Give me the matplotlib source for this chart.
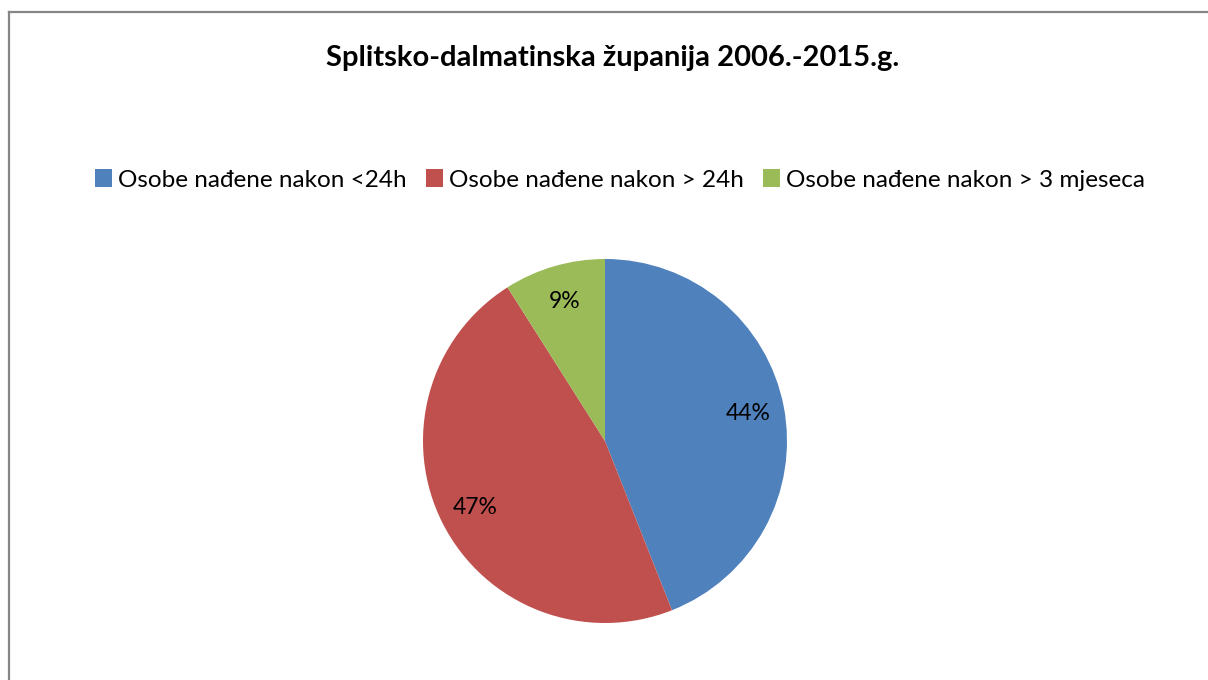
import matplotlib.pyplot as plt
from matplotlib.lines import Line2D
from matplotlib.patches import Patch

plt.rcParams['font.family'] = ['Lato', 'DejaVu Sans']

categories = ['Osobe nađene nakon <24h', 'Osobe nađene nakon > 24h',
              'Osobe nađene nakon > 3 mjeseca']
shares = [44, 47, 9]
colors = ['#4F81BD', '#C0504D', '#9BBB59']

W, H = 1208, 680
fig = plt.figure(figsize=(W / 100, H / 100), dpi=100)

# chart area border (only left and top edges visible in the crop)
fig.add_artist(Line2D([9 / W, 9 / W], [0, 1 - 12 / H], color='#868686', lw=1.6))
fig.add_artist(Line2D([9 / W, 1], [1 - 12 / H, 1 - 12 / H], color='#868686', lw=1.6))

fig.text(613 / W, 1 - 58 / H, 'Splitsko-dalmatinska županija 2006.-2015.g.',
         ha='center', va='center', fontsize=21, fontweight='bold')

# pie: center (605, 441), radius ~182 px
r = 182
ax = fig.add_axes([(605 - r) / W, 1 - (441 + r) / H, 2 * r / W, 2 * r / H])
wedges, texts, autotexts = ax.pie(shares, colors=colors, startangle=90,
                                  counterclock=False, autopct='%1.0f%%',
                                  pctdistance=0.8,
                                  wedgeprops=dict(linewidth=0),
                                  textprops=dict(fontsize=16.5, color='black'))
ax.set_xlim(-1, 1)
ax.set_ylim(-1, 1)
ax.set_aspect('equal')

handles = [Patch(facecolor=c, edgecolor='none') for c in colors]
fig.legend(handles, categories, loc='center', bbox_to_anchor=(620 / W, 1 - 180 / H),
           ncol=3, frameon=False, fontsize=17.5, handlelength=0.7, handleheight=0.7,
           handletextpad=0.25, columnspacing=0.8)

fig.savefig('out.png', dpi=100)
